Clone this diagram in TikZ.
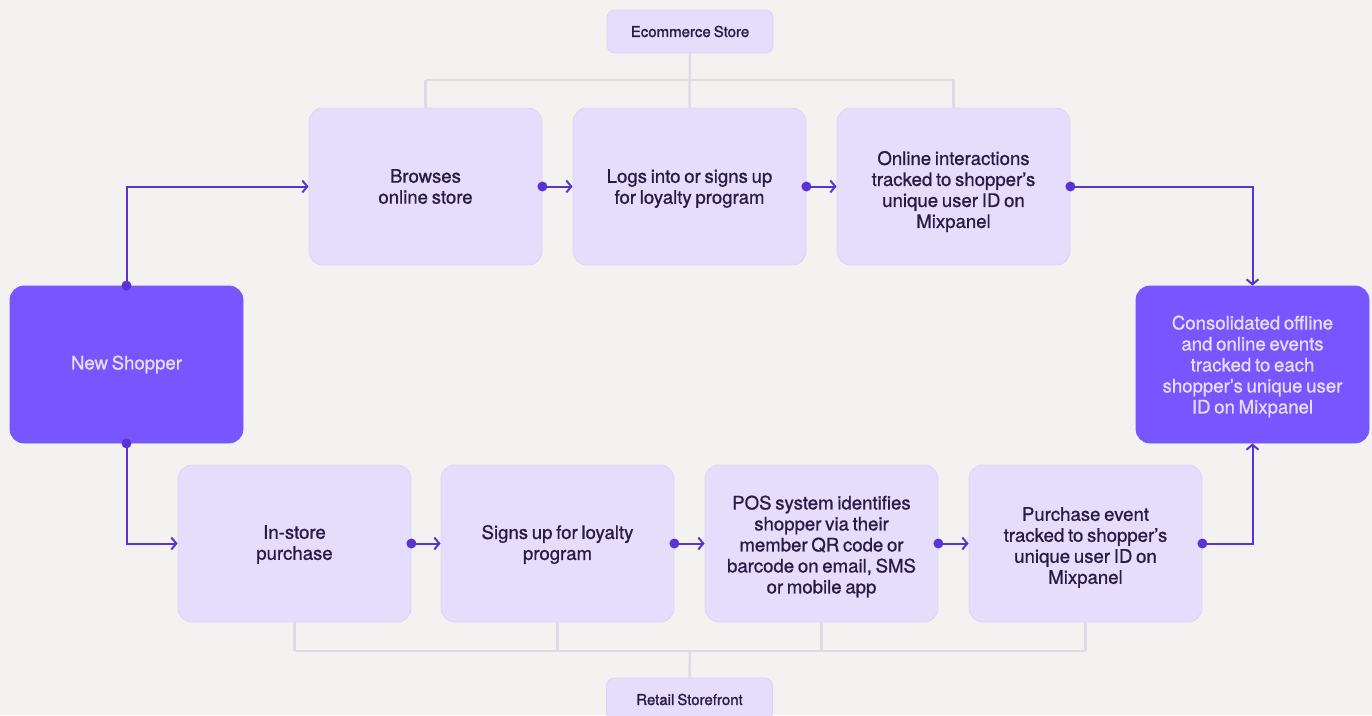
\documentclass[tikz,border=0pt]{standalone}
\usepackage{fontspec}
\setmainfont{TeX Gyre Heros}[WordSpace=0.72, FakeBold=0.9]
\newfontfamily\tagfont{TeX Gyre Heros}[WordSpace=0.72, FakeBold=1.4]
\usetikzlibrary{arrows.meta,calc}
\definecolor{bg}{HTML}{F3F2F0}
\definecolor{lightbox}{HTML}{E6DDFD}
\definecolor{boxline}{HTML}{DCD3F2}
\definecolor{purp}{HTML}{7856FF}
\definecolor{ink}{HTML}{2A1B45}
\definecolor{arrowc}{HTML}{5A34D2}
\definecolor{linec}{HTML}{DEDAE6}
\begin{document}
\begin{tikzpicture}[x=1pt,y=-1pt,
  box/.style={draw=boxline, line width=0.8pt, fill=lightbox, rounded corners=14pt,
    minimum width=233pt, minimum height=157pt, inner sep=0pt},
  darkbox/.style={box, fill=purp, draw=purp},
  txt/.style={align=center, text=ink, inner sep=0pt,
    font=\fontsize{18.6}{21}\selectfont},
  darktxt/.style={txt, text=lightbox},
  tagbox/.style={draw=boxline, line width=0.8pt, fill=lightbox, rounded corners=8pt,
    minimum width=166pt, minimum height=43pt, text=ink, inner sep=0pt,
    font=\tagfont\fontsize{15}{17}\selectfont},
  flow/.style={draw=arrowc, line width=2pt, -{Straight Barb[length=5pt,width=12pt,line width=2pt]}},
  link/.style={draw=linec, line width=2.5pt}]
\fill[bg] (0,0) rectangle (1372,715);
\useasboundingbox (0,0) rectangle (1372,715);
\clip (0,0) rectangle (1372,715);

% connector bar heights
\coordinate (tbar) at (689,80);
\coordinate (bbar) at (690,651);

% nodes
\node[tagbox] (eco) at (690,31.5) {Ecommerce Store};
\node[tagbox] (ret) at (689.5,699.5) {Retail Storefront};

\node[box] (b1) at (425.5,186.5) {};
\node[box] (b2) at (689.5,186.5) {};
\node[box] (b3) at (953.5,186.5) {};
\node[darkbox] (new) at (126.5,364.5) {};
\node[darkbox] (cons) at (1252.5,364.5) {};
\node[box] (s1) at (294.5,543.5) {};
\node[box] (s2) at (557.5,543.5) {};
\node[box] (s3) at (821.5,543.5) {};
\node[box] (s4) at (1085.5,543.5) {};

\node[txt] (b1t) at ($(b1)+(0,0)$) {Browses\\online store};
\node[txt] (b2t) at ($(b2)+(0,2)$) {Logs into or signs up\\for loyalty program};
\node[txt] (b3t) at ($(b3)+(0,5)$) {Online interactions\\tracked to shopper’s\\unique user ID on\\Mixpanel};
\node[darktxt] (newt) at ($(new)+(0,0)$) {New Shopper};
\node[darktxt] (const) at ($(cons)+(0,2)$) {Consolidated offline\\and online events\\tracked to each\\shopper’s unique user\\ID on Mixpanel};
\node[txt] (s1t) at ($(s1)+(0,1)$) {In-store\\purchase};
\node[txt] (s2t) at ($(s2)+(0,1)$) {Signs up for loyalty\\program};
\node[txt] (s3t) at ($(s3)+(0,3)$) {POS system identifies\\shopper via their\\member QR code or\\barcode on email, SMS\\or mobile app};
\node[txt] (s4t) at ($(s4)+(0,4)$) {Purchase event\\tracked to shopper’s\\unique user ID on\\Mixpanel};

% gray links
\draw[link] (eco.south) -- (b2.north);
\draw[link] (b1.north |- tbar) -- (b3.north |- tbar);
\draw[link] (b1.north |- tbar) -- (b1.north);
\draw[link] (b3.north |- tbar) -- (b3.north);

\draw[link] (s1.south |- bbar) -- (s4.south |- bbar);
\draw[link] (s1.south) -- (s1.south |- bbar);
\draw[link] (s2.south) -- (s2.south |- bbar);
\draw[link] (s3.south) -- (s3.south |- bbar);
\draw[link] (s4.south) -- (s4.south |- bbar);
\draw[link] (bbar) -- (ret.north);

% flow arrows
\draw[flow] (new.north) |- (b1.west);
\draw[flow] (new.south) |- (s1.west);
\draw[flow] (b1.east) -- (b2.west);
\draw[flow] (b2.east) -- (b3.west);
\draw[flow] (b3.east) -| (cons.north);
\draw[flow] (s1.east) -- (s2.west);
\draw[flow] (s2.east) -- (s3.west);
\draw[flow] (s3.east) -- (s4.west);
\draw[flow] (s4.east) -| (cons.south);

% dots
\foreach \p in {new.north,new.south,b1.east,b2.east,b3.east,s1.east,s2.east,s3.east,s4.east}
  \fill[arrowc] (\p) circle (5pt);
\end{tikzpicture}
\end{document}
